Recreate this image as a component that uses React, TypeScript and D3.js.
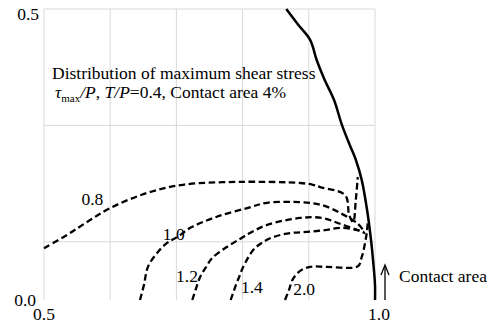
import React from 'react';
import * as d3 from 'd3';

// boundary of contact region (solid)
const boundary: [number, number][] = [
  [0.866, 0.5], [0.884, 0.473], [0.902, 0.447], [0.912, 0.412], [0.924, 0.378],
  [0.938, 0.344], [0.95, 0.301], [0.962, 0.266], [0.971, 0.241], [0.98, 0.206],
  [0.988, 0.155], [0.994, 0.103], [0.997, 0.069], [1.0, 0.026], [1.0, 0.0],
];

// contour lines of tau_max / P
const c08: [number, number][] = [
  [0.5, 0.089], [0.535, 0.112], [0.565, 0.134], [0.6, 0.158], [0.656, 0.184],
  [0.71, 0.198], [0.796, 0.203], [0.887, 0.201], [0.906, 0.198], [0.917, 0.194],
  [0.955, 0.18], [0.961, 0.146], [0.967, 0.134], [0.971, 0.172], [0.974, 0.211],
];
const c10: [number, number][] = [
  [0.645, 0.0], [0.651, 0.026], [0.657, 0.057], [0.671, 0.081], [0.686, 0.098],
  [0.701, 0.108], [0.721, 0.124], [0.761, 0.143], [0.807, 0.158], [0.837, 0.167],
  [0.887, 0.168], [0.92, 0.163], [0.95, 0.148], [0.974, 0.131], [0.983, 0.119],
];
const c12: [number, number][] = [
  [0.724, 0.0], [0.73, 0.021], [0.736, 0.04], [0.745, 0.057], [0.754, 0.072],
  [0.776, 0.091], [0.796, 0.105], [0.811, 0.115], [0.837, 0.129], [0.887, 0.141],
  [0.92, 0.141], [0.947, 0.131], [0.974, 0.12], [0.985, 0.115],
];
const c14: [number, number][] = [
  [0.782, 0.0], [0.79, 0.026], [0.796, 0.043], [0.801, 0.057], [0.816, 0.086],
  [0.829, 0.098], [0.846, 0.108], [0.872, 0.115], [0.897, 0.117], [0.924, 0.12],
  [0.95, 0.124], [0.974, 0.12], [0.983, 0.117],
];
const c20: [number, number][] = [
  [0.864, 0.0], [0.87, 0.017], [0.876, 0.036], [0.887, 0.05], [0.902, 0.057],
  [0.927, 0.057], [0.974, 0.058], [0.98, 0.074], [0.985, 0.098], [0.988, 0.12],
  [0.989, 0.134],
];

const contours = [c08, c10, c12, c14, c20];
const contourNames = ['0.8', '1.0', '1.2', '1.4', '2.0'];
const labelAt: [number, number][] = [
  [0.573, 0.163], [0.696, 0.103], [0.716, 0.031], [0.814, 0.012], [0.893, 0.009],
];

const gridX = [0.6, 0.7, 0.8, 0.9, 1.0];
const gridY = [0.1, 0.3, 0.5];

const W = 494;
const H = 325;
const font = '"Liberation Serif"';

const App = () => {
  const x = d3.scaleLinear().domain([0.5, 1.0]).range([44, 375]);
  const y = d3.scaleLinear().domain([0, 0.5]).range([300, 9]);

  const line = d3.line<[number, number]>()
    .x(d => x(d[0]))
    .y(d => y(d[1]))
    .curve(d3.curveCatmullRom.alpha(0.5));

  const grid = '#d9d9d9';
  const txt = { fontFamily: font, fontSize: 17.5 };

  return (
    <div style={{ position: 'absolute', left: 0, top: 0 }}>
      <svg width={W} height={H} style={{ display: 'block', background: '#fff', fontFamily: font }}>
        {/* grid */}
        {gridX.map(v => (
          <line key={'gx' + v} x1={x(v)} x2={x(v)} y1={y(0.5)} y2={y(0)} stroke={grid} strokeWidth={1} />
        ))}
        {gridY.map(v => (
          <line key={'gy' + v} x1={x(0.5)} x2={x(1.0)} y1={y(v)} y2={y(v)} stroke={grid} strokeWidth={1} />
        ))}
        <line x1={x(0.5)} x2={x(0.5)} y1={y(0.5)} y2={y(0)} stroke={grid} strokeWidth={1} />

        {/* contours */}
        {contours.map((c, i) => (
          <path key={'c' + i} d={line(c) || ''} fill="none" stroke="#000"
            strokeWidth={2.3} strokeDasharray="6.5,3.5" />
        ))}
        <path d={line(boundary) || ''} fill="none" stroke="#000" strokeWidth={2.5} />

        {contourNames.map((n, i) => (
          <text key={'l' + n} x={x(labelAt[i][0])} y={y(labelAt[i][1])}
            textAnchor="middle" style={txt} fill="#000">{n}</text>
        ))}

        {/* axis labels */}
        <text x={39} y={y(0.5) + 11} textAnchor="end" style={txt}>0.5</text>
        <text x={36} y={y(0) + 6} textAnchor="end" style={txt}>0.0</text>
        <text x={x(0.5)} y={320} textAnchor="middle" style={txt}>0.5</text>
        <text x={x(1.0) + 4} y={320} textAnchor="middle" style={txt}>1.0</text>

        {/* title */}
        <text x={52} y={79} style={txt}>Distribution of maximum shear stress</text>
        <text x={55} y={98} style={txt}>
          <tspan fontStyle="italic">τ</tspan>
          <tspan style={{ fontSize: 11 }} dy={4}>max</tspan>
          <tspan dy={-4} fontStyle="italic">/P</tspan>
          <tspan>,  </tspan>
          <tspan fontStyle="italic">T</tspan>
          <tspan fontStyle="italic">/P</tspan>
          <tspan>=0.4, Contact area 4%</tspan>
        </text>

        {/* contact area arrow */}
        <line x1={385} x2={385} y1={300} y2={266} stroke="#000" strokeWidth={1.3} />
        <path d="M381,275 L385,265 L389,275" fill="none" stroke="#000" strokeWidth={1.3} />
        <text x={399} y={282} style={txt}>Contact area</text>
      </svg>
    </div>
  );
};

export default App;
